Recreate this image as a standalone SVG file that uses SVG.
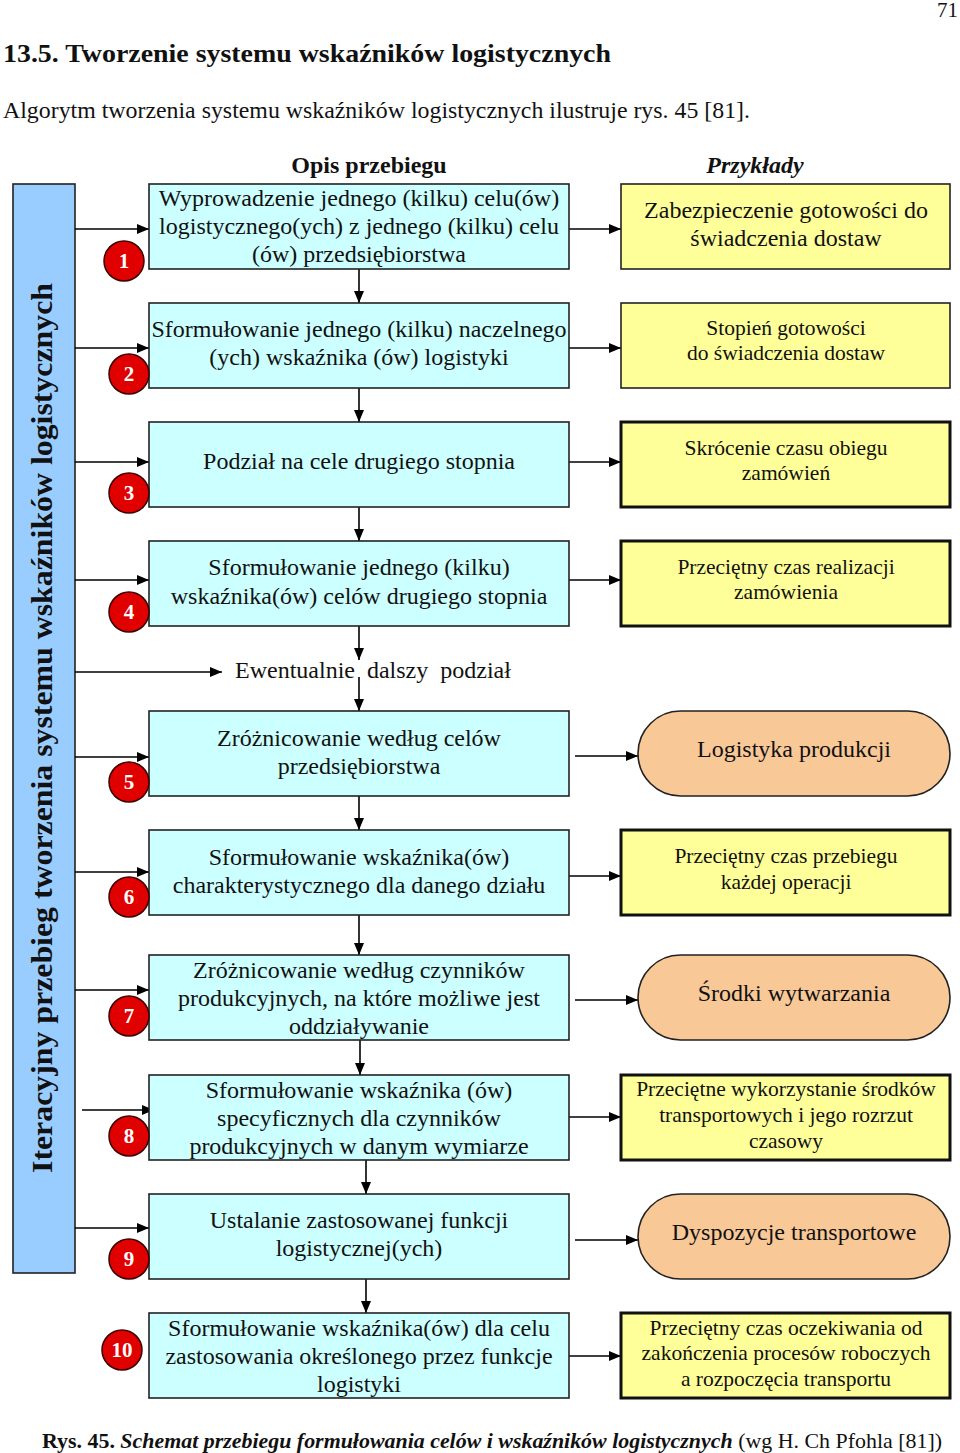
<svg xmlns="http://www.w3.org/2000/svg" width="960" height="1453" viewBox="0 0 960 1453">
<style>
text{font-family:"Liberation Serif","Times New Roman",serif;fill:#111;}
.t{font-size:24px;text-anchor:middle;}
.r{font-size:21.5px;text-anchor:middle;}
.rb{font-size:24px;text-anchor:middle;}
.mid{fill:#ccffff;stroke:#222;stroke-width:1.6;}
.ex{fill:#ffff99;stroke:#222;stroke-width:1.6;}
.exb{fill:#ffff99;stroke:#111;stroke-width:3;}
.pill{fill:#f9c897;stroke:#222;stroke-width:1.6;}
.num circle{fill:#e00000;stroke:#3a0000;stroke-width:1.5;}
.num text{fill:#fff;font-weight:bold;font-size:21px;text-anchor:middle;}
.c line{stroke:#000;stroke-width:1.6;marker-end:url(#ah);}
</style>
<defs>
<marker id="ah" viewBox="0 0 12 10" refX="12" refY="5" markerWidth="12" markerHeight="10" markerUnits="userSpaceOnUse" orient="auto">
<path d="M0,0 L12,5 L0,10 z" fill="#000"/>
</marker>
</defs>
<rect width="960" height="1453" fill="#fff"/>

<text x="937" y="17" font-size="20" textLength="21" lengthAdjust="spacingAndGlyphs">71</text>
<text x="3" y="62" font-size="26" font-weight="bold" textLength="608" lengthAdjust="spacingAndGlyphs">13.5. Tworzenie systemu wskaźników logistycznych</text>
<text x="3" y="118" font-size="24" textLength="747" lengthAdjust="spacingAndGlyphs">Algorytm tworzenia systemu wskaźników logistycznych ilustruje rys. 45 [81].</text>

<text x="369" y="173" font-size="24" font-weight="bold" text-anchor="middle">Opis przebiegu</text>
<text x="755" y="173" font-size="24" font-weight="bold" font-style="italic" text-anchor="middle">Przykłady</text>

<g id="bar">
<rect x="13" y="184" width="62" height="1089" fill="#99ccff" stroke="#222" stroke-width="1.6"/>
<text transform="translate(52,728) rotate(-90)" font-size="30" font-weight="bold" text-anchor="middle" textLength="890" lengthAdjust="spacingAndGlyphs">Iteracyjny przebieg tworzenia systemu wskaźników logistycznych</text>
</g>

<g class="c" id="connectors">
<line x1="75" y1="229" x2="149" y2="229"/>
<line x1="75" y1="348" x2="149" y2="348"/>
<line x1="75" y1="462" x2="149" y2="462"/>
<line x1="75" y1="580" x2="149" y2="580"/>
<line x1="75" y1="672" x2="222" y2="672"/>
<line x1="75" y1="757" x2="149" y2="757"/>
<line x1="75" y1="872" x2="149" y2="872"/>
<line x1="75" y1="990" x2="149" y2="990"/>
<line x1="82" y1="1110" x2="154" y2="1110"/>
<line x1="75" y1="1228" x2="149" y2="1228"/>

<line x1="569" y1="229" x2="621" y2="229"/>
<line x1="569" y1="348" x2="621" y2="348"/>
<line x1="569" y1="462" x2="621" y2="462"/>
<line x1="569" y1="580" x2="621" y2="580"/>
<line x1="575" y1="756" x2="638" y2="756"/>
<line x1="569" y1="876" x2="621" y2="876"/>
<line x1="575" y1="1000" x2="638" y2="1000"/>
<line x1="569" y1="1117" x2="621" y2="1117"/>
<line x1="575" y1="1240" x2="638" y2="1240"/>
<line x1="569" y1="1356" x2="621" y2="1356"/>

<line x1="359" y1="269" x2="359" y2="303"/>
<line x1="359" y1="388" x2="359" y2="422"/>
<line x1="359" y1="507" x2="359" y2="541"/>
<line x1="359" y1="626" x2="359" y2="660"/>
<line x1="359" y1="677" x2="359" y2="711"/>
<line x1="359" y1="796" x2="359" y2="830"/>
<line x1="359" y1="915" x2="359" y2="955"/>
<line x1="360" y1="1040" x2="360" y2="1075"/>
<line x1="366" y1="1160" x2="366" y2="1194"/>
<line x1="366" y1="1279" x2="366" y2="1313"/>
</g>

<g id="step1"><rect class="mid" x="149" y="184" width="420" height="85"/>
<text class="t" x="359" y="206">Wyprowadzenie jednego (kilku) celu(ów)</text>
<text class="t" x="359" y="234">logistycznego(ych) z jednego (kilku) celu</text>
<text class="t" x="359" y="262">(ów) przedsiębiorstwa</text></g>
<g id="step2"><rect class="mid" x="149" y="303" width="420" height="85"/>
<text class="t" x="359" y="337">Sformułowanie jednego (kilku) naczelnego</text>
<text class="t" x="359" y="365">(ych) wskaźnika (ów) logistyki</text></g>
<g id="step3"><rect class="mid" x="149" y="422" width="420" height="85"/>
<text class="t" x="359" y="469">Podział na cele drugiego stopnia</text></g>
<g id="step4"><rect class="mid" x="149" y="541" width="420" height="85"/>
<text class="t" x="359" y="575">Sformułowanie jednego (kilku)</text>
<text class="t" x="359" y="604">wskaźnika(ów) celów drugiego stopnia</text></g>
<g id="further"><text x="235" y="678" font-size="24" xml:space="preserve">Ewentualnie  dalszy  podział</text></g>
<g id="step5"><rect class="mid" x="149" y="711" width="420" height="85"/>
<text class="t" x="359" y="746">Zróżnicowanie według celów</text>
<text class="t" x="359" y="774">przedsiębiorstwa</text></g>
<g id="step6"><rect class="mid" x="149" y="830" width="420" height="85"/>
<text class="t" x="359" y="865">Sformułowanie wskaźnika(ów)</text>
<text class="t" x="359" y="893">charakterystycznego dla danego działu</text></g>
<g id="step7"><rect class="mid" x="149" y="955" width="420" height="85"/>
<text class="t" x="359" y="978">Zróżnicowanie według czynników</text>
<text class="t" x="359" y="1006">produkcyjnych, na które możliwe jest</text>
<text class="t" x="359" y="1034">oddziaływanie</text></g>
<g id="step8"><rect class="mid" x="149" y="1075" width="420" height="85"/>
<text class="t" x="359" y="1098">Sformułowanie wskaźnika (ów)</text>
<text class="t" x="359" y="1126">specyficznych dla czynników</text>
<text class="t" x="359" y="1154">produkcyjnych w danym wymiarze</text></g>
<g id="step9"><rect class="mid" x="149" y="1194" width="420" height="85"/>
<text class="t" x="359" y="1228">Ustalanie zastosowanej funkcji</text>
<text class="t" x="359" y="1256">logistycznej(ych)</text></g>
<g id="step10"><rect class="mid" x="149" y="1313" width="420" height="85"/>
<text class="t" x="359" y="1336">Sformułowanie wskaźnika(ów) dla celu</text>
<text class="t" x="359" y="1364">zastosowania określonego przez funkcje</text>
<text class="t" x="359" y="1392">logistyki</text></g>

<g class="num" id="n1"><circle cx="124" cy="261" r="20"/><text x="124" y="268">1</text></g>
<g class="num" id="n2"><circle cx="129" cy="374" r="20"/><text x="129" y="381">2</text></g>
<g class="num" id="n3"><circle cx="129" cy="493" r="20"/><text x="129" y="500">3</text></g>
<g class="num" id="n4"><circle cx="129" cy="612" r="20"/><text x="129" y="619">4</text></g>
<g class="num" id="n5"><circle cx="129" cy="782" r="20"/><text x="129" y="789">5</text></g>
<g class="num" id="n6"><circle cx="129" cy="897" r="20"/><text x="129" y="904">6</text></g>
<g class="num" id="n7"><circle cx="129" cy="1016" r="20"/><text x="129" y="1023">7</text></g>
<g class="num" id="n8"><circle cx="129" cy="1136" r="20"/><text x="129" y="1143">8</text></g>
<g class="num" id="n9"><circle cx="129" cy="1259" r="20"/><text x="129" y="1266">9</text></g>
<g class="num" id="n10"><circle cx="122" cy="1350" r="20"/><text x="122" y="1357">10</text></g>

<g id="ex1"><rect class="ex" x="621" y="184" width="329" height="85"/>
<text class="rb" x="786" y="218">Zabezpieczenie gotowości do</text>
<text class="rb" x="786" y="246">świadczenia dostaw</text></g>
<g id="ex2"><rect class="ex" x="621" y="303" width="329" height="85"/>
<text class="r" x="786" y="335">Stopień gotowości</text>
<text class="r" x="786" y="360">do świadczenia dostaw</text></g>
<g id="ex3"><rect class="exb" x="621" y="422" width="329" height="85"/>
<text class="r" x="786" y="455">Skrócenie czasu obiegu</text>
<text class="r" x="786" y="480">zamówień</text></g>
<g id="ex4"><rect class="exb" x="621" y="541" width="329" height="85"/>
<text class="r" x="786" y="574">Przeciętny czas realizacji</text>
<text class="r" x="786" y="599">zamówienia</text></g>
<g id="ex5"><rect class="pill" x="638" y="711" width="312" height="85" rx="42.5"/>
<text class="rb" x="794" y="757">Logistyka produkcji</text></g>
<g id="ex6"><rect class="exb" x="621" y="830" width="329" height="85"/>
<text class="r" x="786" y="863">Przeciętny czas przebiegu</text>
<text class="r" x="786" y="889">każdej operacji</text></g>
<g id="ex7"><rect class="pill" x="638" y="955" width="312" height="85" rx="42.5"/>
<text class="rb" x="794" y="1001">Środki wytwarzania</text></g>
<g id="ex8"><rect class="exb" x="621" y="1075" width="329" height="85"/>
<text class="r" x="786" y="1096">Przeciętne wykorzystanie środków</text>
<text class="r" x="786" y="1122">transportowych i jego rozrzut</text>
<text class="r" x="786" y="1148">czasowy</text></g>
<g id="ex9"><rect class="pill" x="638" y="1194" width="312" height="85" rx="42.5"/>
<text class="rb" x="794" y="1240">Dyspozycje transportowe</text></g>
<g id="ex10"><rect class="exb" x="621" y="1313" width="329" height="85"/>
<text class="r" x="786" y="1335">Przeciętny czas oczekiwania od</text>
<text class="r" x="786" y="1360">zakończenia procesów roboczych</text>
<text class="r" x="786" y="1386">a rozpoczęcia transportu</text></g>

<text x="42" y="1448" font-size="21" textLength="900" lengthAdjust="spacingAndGlyphs"><tspan font-weight="bold">Rys. 45. </tspan><tspan font-weight="bold" font-style="italic">Schemat przebiegu formułowania celów i wskaźników logistycznych</tspan><tspan> (wg H. Ch Pfohla [81])</tspan></text>
</svg>
